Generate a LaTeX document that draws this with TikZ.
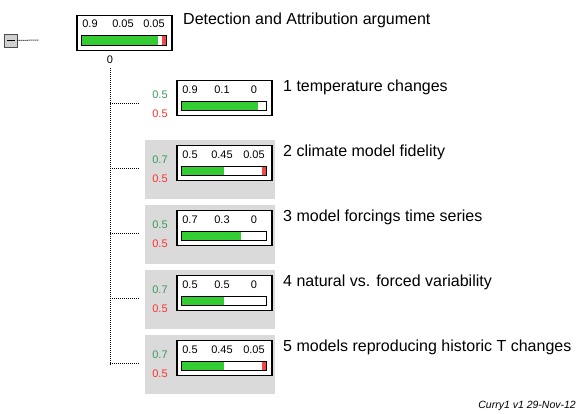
\documentclass[tikz,border=0pt]{standalone}
\usepackage{fontspec}
\setmainfont{Liberation Sans}
\definecolor{bargreen}{HTML}{33CC33}
\definecolor{barred}{HTML}{F04848}
\definecolor{lblgreen}{HTML}{3A9A5A}
\definecolor{lblred}{HTML}{FF3030}
\definecolor{bggray}{HTML}{DADADA}
\definecolor{icongray}{HTML}{D0D0D0}
\tikzset{
  probbox/.style={draw, line width=1.5pt, minimum width=95pt, minimum height=35pt, inner sep=0pt, anchor=north west},
  barframe/.style={draw, line width=1pt},
  num/.style={font=\fontsize{11}{13}\selectfont, inner sep=0pt, anchor=center},
  ttl/.style={font=\fontsize{16}{19}\selectfont, inner sep=0pt, anchor=west},
  link/.style={line width=1pt, dash pattern=on 1pt off 1pt},
  panel/.style={fill=bggray, draw=none},
}
\begin{document}
\begin{tikzpicture}[x=1pt,y=-1pt]
\useasboundingbox (0,0) rectangle (582,414);
\fill[white] (0,0) rectangle (582,414);

% collapse icon
\node[draw=black!70, fill=icongray, minimum size=13pt, inner sep=0pt, line width=0.8pt] (icon) at (10.5,40.5) {};
\draw[line width=1.2pt] (6.5,40.5) -- (14.5,40.5);
\coordinate (iconend) at (39,40);
\draw[link] (icon.east) -- (iconend);

% root box
\node[probbox] (root) at (76,15) {};
\fill[white] (81,35) rectangle (166,45);
\fill[bargreen] (81,35) rectangle (157.5,45);
\fill[barred] (161.75,35) rectangle (166,45);
\node[barframe, minimum width=85pt, minimum height=10pt, inner sep=0pt, anchor=north west] (rootbar) at (81,35) {};
\node[num] (r1) at (90,24) {0.9};
\node[num] (r2) at (123,24) {0.05};
\node[num] (r3) at (154,24) {0.05};
\node[ttl] (rootttl) at (183,20) {Detection and Attribution argument};
\node[num] (zero) at (110,60) {0};

% trunk
\coordinate (trunktop) at (110,68);
\coordinate (trunkbot) at (110,365);
\draw[link] (trunktop) -- (trunkbot);

\foreach \i/\t/\a/\b/\c/\g/\gr/\lab in {
  1/80/0.9/0.1/0/0.5/0/{1 temperature changes},
  2/145/0.5/0.45/0.05/0.7/1/{2 climate model fidelity},
  3/210/0.7/0.3/0/0.5/1/{3 model forcings time series},
  4/275/0.5/0.5/0/0.7/1/{4 natural vs. forced variability},
  5/340/0.5/0.45/0.05/0.7/1/{5 models reproducing historic T changes}}{
  \ifnum\gr=1
    \fill[panel] (145,\t-5) rectangle (275,\t+54);
  \fi
  \fill[white] (176,\t) rectangle (271,\t+35);
  \node[probbox] (b\i) at (176,\t) {};
  \fill[bargreen] (181,\t+21) rectangle ({181+85*\a},\t+30);
  \pgfmathsetmacro{\redw}{85*\c}
  \ifdim\redw pt>0pt
    \fill[barred] ({266-85*\c},\t+21) rectangle (266,\t+30);
  \fi
  \node[barframe, minimum width=85pt, minimum height=9pt, inner sep=0pt, anchor=north west] (bar\i) at (181,\t+21) {};
  \node[num] (n\i a) at (190,\t+10) {\a};
  \node[num] (n\i b) at (222,\t+10) {\b};
  \node[num] (n\i c) at (254,\t+10) {\c};
  \node[num, text=lblgreen] (g\i) at (160,\t+15) {\g};
  \node[num, text=lblred] (r\i) at (160,\t+34) {0.5};
  \node[ttl] (t\i) at (283,\t+7) {\lab};
  \coordinate (h\i) at (110,\t+24);
  \coordinate (e\i) at (139,\t+24);
  \draw[link] (h\i) -- (e\i);
}

\node[font=\fontsize{10.5}{12}\selectfont\itshape, anchor=east, inner sep=0pt] (foot) at (576,406) {Curry1 v1 29-Nov-12};
\end{tikzpicture}
\end{document}
